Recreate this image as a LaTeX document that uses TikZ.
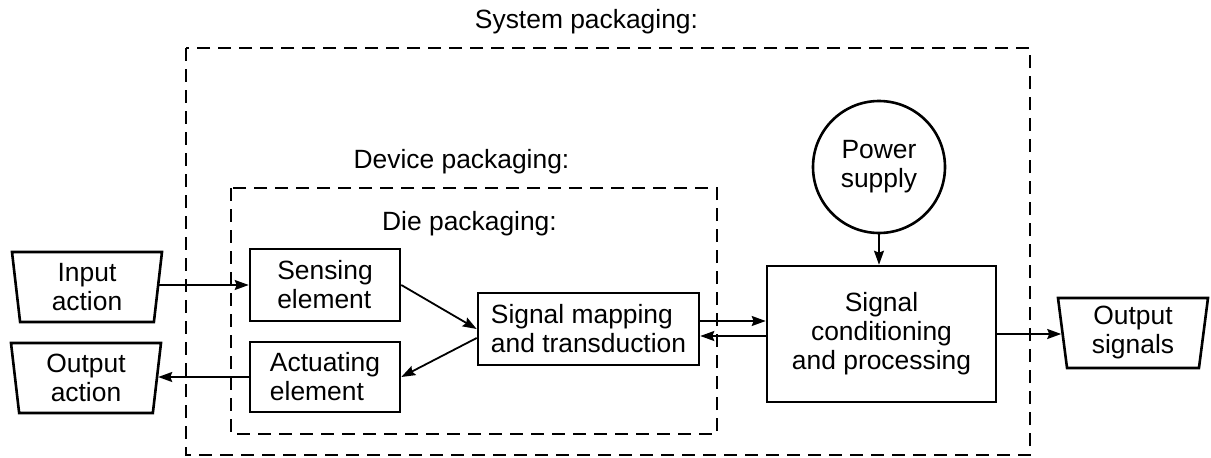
\documentclass[tikz,border=0pt]{standalone}
\usepackage{fontspec}
\setmainfont{Liberation Sans}
\usetikzlibrary{shapes.geometric,arrows.meta}

\begin{document}
\begin{tikzpicture}[x=1pt,y=-1pt,
  every node/.style={font=\fontsize{26.4pt}{29pt}\selectfont},
  block/.style={draw, line width=2.6pt, inner sep=0pt, align=left},
  ioshape/.style={trapezium, trapezium left angle=99.7, trapezium right angle=99.7,
    trapezium stretches body, draw, line width=2.6pt, minimum width=150pt,
    minimum height=70pt, inner sep=0pt, align=center},
  pack/.style={draw, line width=2.9pt, dash pattern=on 13pt off 8pt},
  packlabel/.style={anchor=base, inner sep=0pt},
  conn/.style={line width=1.8pt, -{Stealth[length=14pt,width=10pt,inset=2pt]}}]

\useasboundingbox (0,0) rectangle (1211,458);

% packaging levels
\draw[pack] (186,48) rectangle (1030,455);
\draw[pack] (231,188) rectangle (717,434);
\node[packlabel] (syslbl) at (586.5,28) {System packaging:};
\node[packlabel] (devlbl) at (461.5,168) {Device packaging:};
\node[packlabel] (dielbl) at (469.5,230) {Die packaging:};

% inputs and outputs
\node[ioshape] (inact) at (87,287) {Input\\action};
\node[ioshape] (outact) at (86,378) {Output\\action};
\node[ioshape] (outsig) at (1133,333) {Output\\signals};

% functional blocks
\node[block, minimum width=150pt, minimum height=72pt] (sense) at (325,285) {Sensing\\element};
\node[block, minimum width=150pt, minimum height=70pt] (act) at (325,377) {Actuating\\element};
\node[block, minimum width=221pt, minimum height=72pt] (map) at (588.5,329) {Signal mapping\\and transduction};
\node[block, align=center, minimum width=229pt, minimum height=136pt] (cond) at (881.5,334) {Signal\\conditioning\\and processing};
\node[circle, draw, line width=2.6pt, minimum size=132pt, inner sep=0pt, align=center] (power) at (879,167) {Power\\supply};

% signal flow
\draw[conn] (inact.east |- sense.west) -- (sense.west);
\draw[conn] (act.west) -- (act.west -| outact.east);
\draw[conn] (sense.east) -- (map.west);
\draw[conn] ([yshift=-9pt]map.west) -- (act.east);
\draw[conn] ([yshift=8pt]map.east) -- ([yshift=8pt]map.east -| cond.west);
\draw[conn] ([yshift=-7pt]map.east -| cond.west) -- ([yshift=-7pt]map.east);
\draw[conn] (cond.east) -- (cond.east -| outsig.west);
\draw[conn] (power.south) -- (power.south |- cond.north);
\end{tikzpicture}
\end{document}
